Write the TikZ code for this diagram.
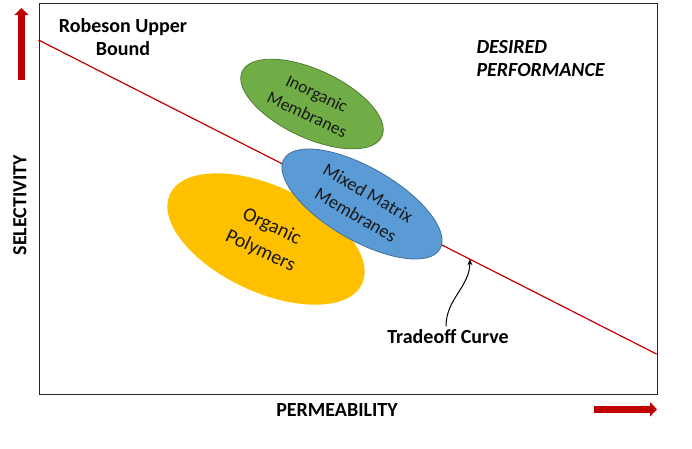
\documentclass[tikz,border=0pt]{standalone}
\usepackage{fontspec}
\setmainfont{Carlito}
\usetikzlibrary{positioning}
\usetikzlibrary{shapes.geometric}
\usetikzlibrary{arrows.meta}
\usetikzlibrary{calc}
\definecolor{boundred}{HTML}{C00000}
\definecolor{inorgfill}{HTML}{70AD47}
\definecolor{inorgline}{HTML}{507E32}
\definecolor{mixedfill}{HTML}{5B9BD5}
\definecolor{mixedline}{HTML}{41719C}
\definecolor{orgfill}{HTML}{FFC000}
\tikzset{
  blob/.style = {ellipse, inner sep=0pt, align=center, text=black!90},
  bigarrow/.style = {boundred, line width=6.5pt, -{Triangle[length=7pt,width=14pt]}},
  lbl/.style = {font=\bfseries\fontsize{20}{23}\selectfont, align=center}
}

\begin{document}
\begin{tikzpicture}[x=1pt, y=-1pt]
          \useasboundingbox (0,0) rectangle (692,448);
          \coordinate (ub1) at (38.5,40);
          \coordinate (ub2) at (656.5,354);
          \draw[boundred, line width=1.2pt] (ub1) -- (ub2);
          \coordinate (tip) at ($(ub1)!0.698!(ub2)$);
          \node[blob, fill=orgfill, rotate=-25, minimum width=212pt, minimum height=106pt,
                font=\fontsize{20}{27}\selectfont] (organic) at (266,239) {Organic\\Polymers};
          \node[blob, fill=inorgfill, draw=inorgline, line width=0.8pt, rotate=-25,
                minimum width=154pt, minimum height=68pt,
                font=\fontsize{17.5}{23}\selectfont] (inorganic) at (312,104) {Inorganic\\Membranes};
          \node[blob, fill=mixedfill, draw=mixedline, line width=0.8pt, rotate=-30,
                minimum width=180pt, minimum height=73pt,
                font=\fontsize{18.5}{25}\selectfont] (mixed) at (362,204) {Mixed Matrix\\Membranes};
          \node[draw=black!85, line width=1.3pt, inner sep=0pt, anchor=north west,
                minimum width=618pt, minimum height=391.5pt] (frame) at (38.5,2.5) {};
          \node[lbl] (robeson) at (123,37.5) {Robeson Upper\\Bound};
          \node[lbl, font=\bfseries\itshape\fontsize{20}{23}\selectfont, align=left,
                anchor=west] (desired) at (473,59) {DESIRED\\PERFORMANCE};
          \node[lbl] (trade) at (448,337) {Tradeoff Curve};
          \draw[-{Stealth[length=6pt,width=5pt]}, line width=1pt] ([xshift=-2pt]trade.north) to[out=90, in=-90] (tip);
          \node[lbl, rotate=90] (select) at (20,205) {SELECTIVITY};
          \node[lbl] (perm) at (337,410) {PERMEABILITY};
          \coordinate (va) at (21.5,79.5);
          \coordinate (vb) at (21.5,8);
          \coordinate (ha) at (593.5,409.3);
          \coordinate (hb) at (657,409.3);
          \draw[bigarrow] (va) -- (vb);
          \draw[bigarrow] (ha) -- (hb);
        \end{tikzpicture}
\end{document}
